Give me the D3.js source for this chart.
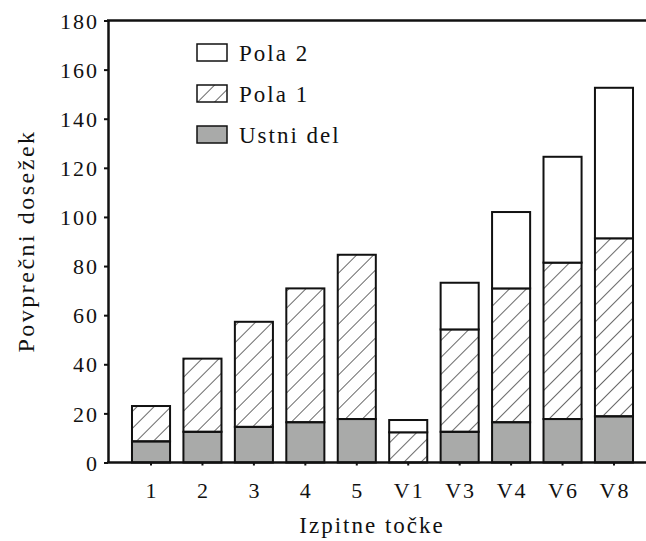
<!DOCTYPE html>
<html>
<head>
<meta charset="utf-8">
<script src="https://cdn.jsdelivr.net/npm/d3@7"></script>
<style>
body { margin: 0; background: #fff; }
</style>
</head>
<body>
<svg></svg>
<script>
var width = 646;
var height = 541;
var serif = "'Liberation Serif', 'Times New Roman', serif";

var categories = ['1', '2', '3', '4', '5', 'V1', 'V3', 'V4', 'V6', 'V8'];
var ustniDel = [8.6, 12.5, 14.5, 16.4, 17.7, 0, 12.5, 16.4, 17.7, 18.8];
var pola1 = [14.4, 29.8, 42.8, 54.5, 66.9, 12.3, 41.7, 54.5, 63.7, 72.5];
var pola2 = [0, 0, 0, 0, 0, 5, 19, 31.1, 43.1, 61.3];
var yTicks = [0, 20, 40, 60, 80, 100, 120, 140, 160, 180];
var seriesNames = ['Ustni del', 'Pola 1', 'Pola 2'];

var svg = d3.select('svg')
	.attr('width', width)
	.attr('height', height);

function serifText(sel, size, spacing) {
	return sel.style('font-family', serif)
		.style('font-size', size + 'px')
		.style('letter-spacing', (spacing || 2) + 'px')
		.style('fill', '#111');
}

// hatch for Pola 1
var defs = svg.append('defs');
defs.append('pattern')
	.attr('id', 'hatch')
	.attr('patternUnits', 'userSpaceOnUse')
	.attr('width', 12)
	.attr('height', 12)
	.attr('patternTransform', 'rotate(45)')
	.append('line')
	.attr('x1', 0).attr('y1', 0)
	.attr('x2', 0).attr('y2', 12)
	.attr('stroke', '#444')
	.attr('stroke-width', 1.6);

var y = d3.scaleLinear()
	.domain([0, 180])
	.range([462.5, 20.5]);

var x = d3.scaleBand()
	.domain(categories)
	.range([125.3, 639.7])
	.paddingInner(0.26)
	.paddingOuter(0.13);

var rows = categories.map(function(c, i) {
	return { cat: c, 'Ustni del': ustniDel[i], 'Pola 1': pola1[i], 'Pola 2': pola2[i] };
});
var stack = d3.stack().keys(seriesNames)(rows);

var fills = { 'Ustni del': '#a9aaa9', 'Pola 1': 'url(#hatch)', 'Pola 2': '#fff' };

stack.forEach(function(layer) {
	svg.append('g')
		.selectAll('rect')
		.data(layer.filter(function(d) { return d[1] - d[0] > 0; }))
		.enter()
		.append('rect')
		.attr('x', function(d) { return x(d.data.cat); })
		.attr('width', x.bandwidth())
		.attr('y', function(d) { return y(d[1]); })
		.attr('height', function(d) { return y(d[0]) - y(d[1]); })
		.attr('fill', fills[layer.key])
		.attr('stroke', '#111')
		.attr('stroke-width', 2);
});

// y axis
var yAxis = d3.axisLeft(y)
	.tickValues(yTicks)
	.tickSize(4)
	.tickSizeOuter(0);
var gy = svg.append('g')
	.attr('transform', 'translate(108,0)')
	.call(yAxis);
gy.select('.domain').attr('stroke', '#111').attr('stroke-width', 2.5);
gy.selectAll('.tick line').attr('stroke', '#111').attr('stroke-width', 2);
serifText(gy.selectAll('.tick text'), 22)
	.attr('x', -9)
	.attr('dy', '0.35em');

// x axis
var xAxis = d3.axisBottom(x)
	.tickSize(3)
	.tickSizeOuter(0);
var gx = svg.append('g')
	.attr('transform', 'translate(0,' + y(0) + ')')
	.call(xAxis);
gx.select('.domain').remove();
gx.selectAll('.tick line').attr('stroke', '#111').attr('stroke-width', 2);
serifText(gx.selectAll('.tick text'), 22)
	.attr('x', 1)
	.attr('y', 20)
	.attr('dy', '0.71em');

svg.append('line')
	.attr('x1', 107).attr('x2', width)
	.attr('y1', y(0)).attr('y2', y(0))
	.attr('stroke', '#111').attr('stroke-width', 2.5);
svg.append('line')
	.attr('x1', 107).attr('x2', width)
	.attr('y1', y(180)).attr('y2', y(180))
	.attr('stroke', '#111').attr('stroke-width', 2.5);

// titles
serifText(svg.append('text'), 23)
	.attr('x', 372)
	.attr('y', 533)
	.attr('text-anchor', 'middle')
	.text('Izpitne točke');

serifText(svg.append('text'), 24, 2.5)
	.attr('transform', 'translate(34,241) rotate(-90)')
	.attr('text-anchor', 'middle')
	.text('Povprečni dosežek');

// legend
var legend = svg.append('g').attr('transform', 'translate(197,44)');
var legendItems = ['Pola 2', 'Pola 1', 'Ustni del'];
legendItems.forEach(function(k, i) {
	var g = legend.append('g').attr('transform', 'translate(0,' + (i * 41) + ')');
	g.append('rect')
		.attr('width', 30)
		.attr('height', 17)
		.attr('fill', fills[k])
		.attr('stroke', '#111')
		.attr('stroke-width', 1.5);
	serifText(g.append('text'), 23)
		.attr('x', 42)
		.attr('y', 8.5)
		.attr('dy', '0.35em')
		.text(k);
});
</script>
</body>
</html>
